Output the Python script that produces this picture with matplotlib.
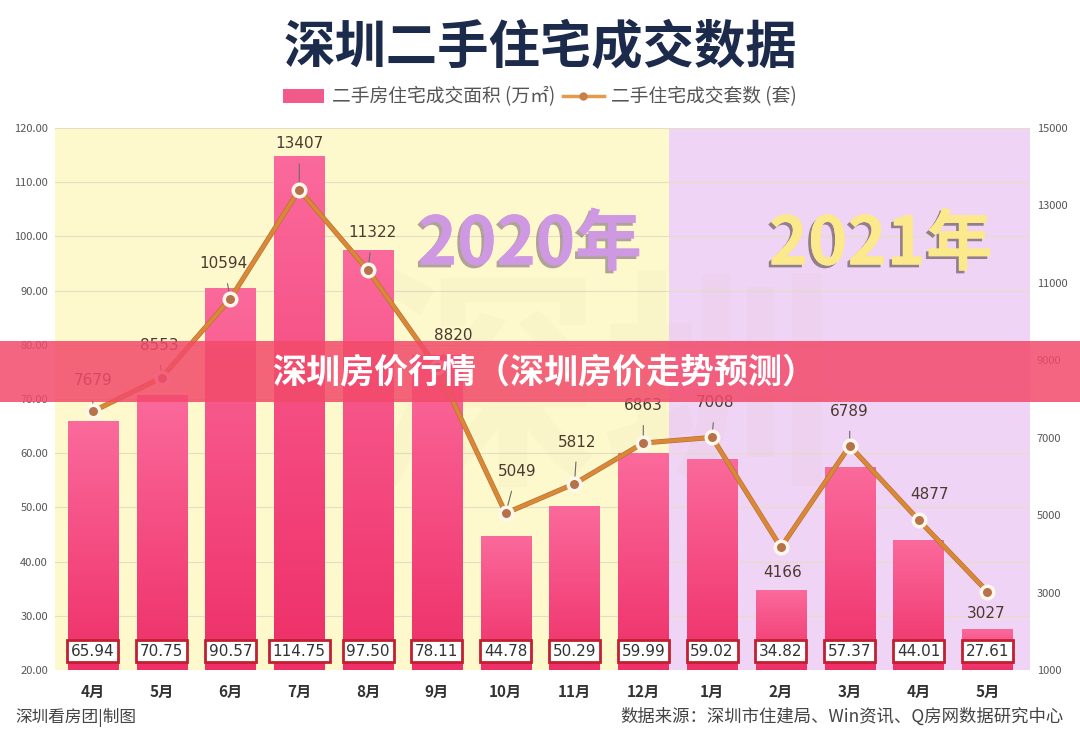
import numpy as np
import matplotlib
matplotlib.use('Agg')
import matplotlib.pyplot as plt
from matplotlib.patches import Rectangle
from matplotlib.lines import Line2D
import matplotlib.patheffects as pe

plt.rcParams['font.family'] = ['Noto Sans CJK SC', 'DejaVu Sans']

# 数据
months = ['4月', '5月', '6月', '7月', '8月', '9月', '10月', '11月', '12月',
          '1月', '2月', '3月', '4月', '5月']
area = [65.94, 70.75, 90.57, 114.75, 97.50, 78.11, 44.78, 50.29, 59.99,
        59.02, 34.82, 57.37, 44.01, 27.61]
units = [7679, 8553, 10594, 13407, 11322, 8820, 5049, 5812, 6863,
         7008, 4166, 6789, 4877, 3027]
left_ticks = [20, 30, 40, 50, 60, 70, 80, 90, 100, 110, 120]
right_ticks = [1000, 3000, 5000, 7000, 9000, 11000, 13000, 15000]

# 折线数值标签的偏移 (points)
lab_dx = [0, -2, -5, 0, 3, 12, 8, 2, 0, 2, 1, 0, 8, -1]
lab_dy = [22, 23, 25, 33, 27, 23, 30, 30, 27, 25, -18, 25, 18, -16]

fig = plt.figure(figsize=(10.8, 7.44), dpi=100)
fig.patch.set_facecolor('white')
ax = fig.add_axes([55 / 1080, 74 / 744, 975 / 1080, 542 / 744])
x = np.arange(len(months))
ax.set_xlim(-0.55, 13.62)
ax.set_ylim(20, 120)

# 背景
ax.axvspan(-0.55, 8.38, color='#fdf9cd', zorder=0, lw=0)
ax.axvspan(8.38, 13.62, color='#f0d4f5', zorder=0, lw=0)
for t in left_ticks[1:]:
    ax.axhline(t, color='#e4dfc4', lw=0.8, zorder=1)

# 水印
ax.text(0.56, 0.5, '深圳', transform=ax.transAxes, fontsize=170, weight='bold',
        color='#b08060', alpha=0.035, ha='center', va='center', zorder=1)
ax.text(6.35, 98.4, '2020年', fontsize=48, weight='heavy', color='#cf98e2',
        ha='center', va='center', zorder=1,
        path_effects=[pe.withSimplePatchShadow(offset=(-2, -2), shadow_rgbFace='#7a6a70', alpha=0.6),
                      pe.Normal()])
ax.text(11.45, 98.4, '2021年', fontsize=48, weight='heavy', color='#fbe98c',
        ha='center', va='center', zorder=1,
        path_effects=[pe.withSimplePatchShadow(offset=(-2, -2), shadow_rgbFace='#6a5a60', alpha=0.7),
                      pe.Normal()])

# 柱状图 (渐变)
bars = ax.bar(x, area, width=0.73, bottom=0, color='#f55a8d', zorder=2, lw=0)
grad = np.linspace(0, 1, 256).reshape(-1, 1)
cmap = matplotlib.colors.LinearSegmentedColormap.from_list('pk', ['#ee2f68', '#fb6a9c'])
for b in bars:
    im = ax.imshow(grad, cmap=cmap, origin='lower', aspect='auto', zorder=2,
                   extent=[b.get_x(), b.get_x() + b.get_width(), 20, b.get_height()])
    im.set_clip_path(b)

for i, v in enumerate(area):
    ax.text(i, 23.5, f'{v:.2f}', ha='center', va='center', fontsize=11,
            color='#333333', zorder=6, family=['DejaVu Sans'],
            bbox=dict(boxstyle='square,pad=0.25', fc='white', ec='#c02030', lw=2))

ax.set_yticks(left_ticks)
ax.set_yticklabels([f'{t:.2f}' for t in left_ticks], fontsize=8, color='#555555')
ax.set_xticks(x)
ax.set_xticklabels(months, fontsize=11, weight='bold', color='#333333')
ax.tick_params(length=0, pad=10)
ax.tick_params(axis='y', pad=5)
for s in ax.spines.values():
    s.set_visible(False)

# 折线图
ax2 = ax.twinx()
ax2.set_ylim(1000, 15000)
ax2.set_yticks(right_ticks)
ax2.set_yticklabels([str(t) for t in right_ticks], fontsize=8, color='#555555')
ax2.tick_params(length=0, pad=5)
for s in ax2.spines.values():
    s.set_visible(False)
ax2.plot(x, units, color='#d98838', lw=2.8, zorder=3,
         path_effects=[pe.Stroke(linewidth=3.6, foreground='#b56a30'), pe.Normal()])
ax2.plot(x, units, 'o', ms=9, mfc='#b8724a', mec='#fff8ee', mew=2.5, zorder=4)
for i, u in enumerate(units):
    ax2.annotate(str(u), (i, u), xytext=(lab_dx[i], lab_dy[i]), textcoords='offset points',
                 ha='center', va='center', fontsize=11, color='#4a3a30',
                 family=['DejaVu Sans'],
                 arrowprops=dict(arrowstyle='-', color='#6a6a6a', lw=0.8,
                                 shrinkA=7, shrinkB=5))

# 标题和图例
fig.text(0.5, 1 - 47 / 744, '深圳二手住宅成交数据', ha='center', va='center',
         fontsize=37, weight='heavy', color='#1c2a4c')
handles = [Rectangle((0, 0), 1, 1, fc='#f25a8c'),
           Line2D([], [], color='#e39a4a', lw=2.5, marker='o', ms=5,
                  mfc='#c8804a', mec='#c8804a')]
fig.legend(handles, ['二手房住宅成交面积 (万㎡)', '二手住宅成交套数 (套)'],
           loc='center', bbox_to_anchor=(0.5, 1 - 97 / 744), ncol=2, frameon=False,
           fontsize=13.5, handlelength=2.2, columnspacing=0.4, handletextpad=0.4,
           labelcolor='#555555')

# 来源
fig.text(15 / 1080, 1 - 717 / 744, '深圳看房团|制图', ha='left', va='center',
         fontsize=12, color='#444444')
fig.text(1064 / 1080, 1 - 717 / 744, '数据来源：深圳市住建局、Win资讯、Q房网数据研究中心',
         ha='right', va='center', fontsize=12.5, color='#444444')

# 横幅
fig.patches.append(Rectangle((0, 1 - 402 / 744), 1, 61 / 744, transform=fig.transFigure,
                             fc='#f24a6a', alpha=0.85, zorder=10, lw=0))
fig.text(544 / 1080, 1 - 372 / 744, '深圳房价行情（深圳房价走势预测）', ha='center',
         va='center', fontsize=24.5, weight='bold', color='white', zorder=11)

fig.savefig('out.png', dpi=100)
